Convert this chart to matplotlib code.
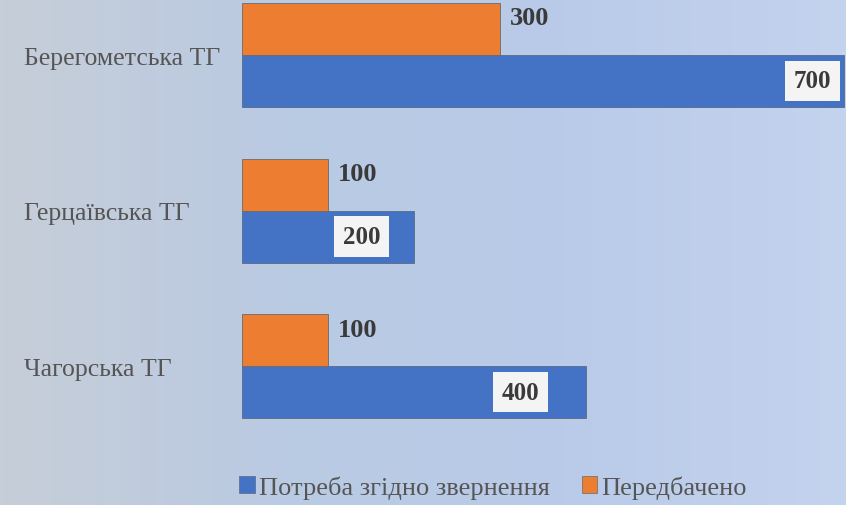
import numpy as np
import matplotlib
matplotlib.use("Agg")
import matplotlib.pyplot as plt
from matplotlib.colors import LinearSegmentedColormap
from matplotlib.patches import Patch

categories = ["Берегометська ТГ", "Герцаївська ТГ", "Чагорська ТГ"]
needed = [700, 200, 400]      # Потреба згідно звернення
planned = [300, 100, 100]     # Передбачено
series_names = ["Потреба згідно звернення", "Передбачено"]

blue = "#4472C4"
orange = "#ED7D31"
text_color = "#555555"
value_color = "#3a3a3a"

plt.rcParams["font.family"] = ["Liberation Serif", "DejaVu Serif"]

fig = plt.figure(figsize=(8.46, 5.06), dpi=100)

# background gradient
bg = fig.add_axes([0, 0, 1, 1], zorder=-10)
cmap = LinearSegmentedColormap.from_list(
    "bg", ["#C6CED8", "#BACAE3", "#B9CBE9", "#C4D3EE"])
bg.imshow(np.linspace(0, 1, 256).reshape(1, -1), aspect="auto", cmap=cmap,
          extent=[0, 1, 0, 1])
bg.axis("off")

ax = fig.add_axes([242 / 846, 61 / 506, 604 / 846, 445 / 506])
ax.patch.set_alpha(0)

y = np.arange(len(categories))
h = 0.334
bars_needed = ax.barh(y + h / 2, needed, height=h, color=blue,
                      edgecolor="#5a6a85", linewidth=0.6)
bars_planned = ax.barh(y - h / 2, planned, height=h, color=orange,
                       edgecolor="#6a6a6a", linewidth=0.6)

ax.set_xlim(0, 702)
ax.set_ylim(2.5, -0.36)
ax.set_xticks([])
ax.set_yticks(y)
ax.set_yticklabels(categories, ha="left", color=text_color, fontsize=18.5)
ax.tick_params(axis="y", length=0, pad=157)
for s in ax.spines.values():
    s.set_visible(False)

# labels for orange bars, outside end
for b, v in zip(bars_planned, planned):
    ax.annotate(str(v), (b.get_width(), b.get_y() + b.get_height() / 2),
                xytext=(7, 8), textcoords="offset points", ha="left",
                va="center", fontsize=19, fontweight="bold",
                color=value_color)

# labels for blue bars, inside end with light box
inside_offsets = [-23, -38, -47]
for b, v, off in zip(bars_needed, needed, inside_offsets):
    ax.annotate(str(v), (b.get_width(), b.get_y() + b.get_height() / 2),
                xytext=(off, 0), textcoords="offset points", ha="center",
                va="center", fontsize=18, fontweight="bold",
                color=value_color,
                bbox=dict(boxstyle="square,pad=0.35", fc="#F4F4F4",
                          ec="none"))

handles = [Patch(facecolor=blue, edgecolor="#5a6a85", linewidth=0.5),
           Patch(facecolor=orange, edgecolor="#6a6a6a", linewidth=0.5)]
leg = fig.legend(handles, series_names, loc="center",
                 bbox_to_anchor=(493 / 846, 1 - 488 / 506), ncol=2,
                 frameon=False, fontsize=19, handlelength=0.6,
                 handleheight=0.6, handletextpad=0.15, columnspacing=1.2)
for t in leg.get_texts():
    t.set_color(text_color)

fig.savefig("out.png", dpi=100)
